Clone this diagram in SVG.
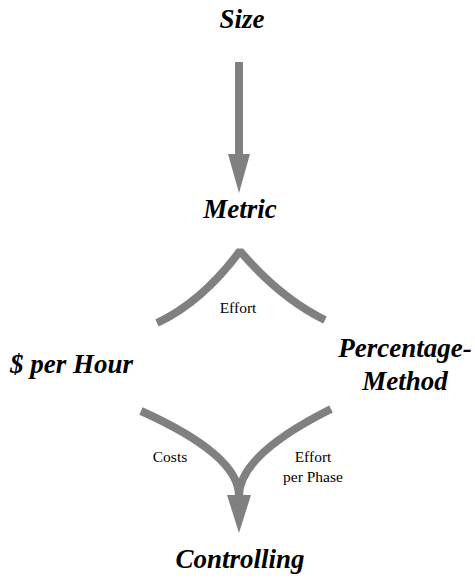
<svg xmlns="http://www.w3.org/2000/svg" width="475" height="579" viewBox="0 0 475 579">
<style>
text{font-family:'Liberation Serif','DejaVu Serif',serif}
.node{font-size:27px;font-weight:bold;font-style:italic;fill:#000}
.lbl{font-size:15.5px;fill:#000}
.band{fill:none;stroke:#808080;stroke-width:8;stroke-linecap:butt}
.head{fill:#808080}
</style>
<rect width="475" height="579" fill="#fff"/>
<g id="connectors">
  <rect x="235" y="62" width="8" height="93" class="head"/>
  <polygon points="228,154 250,154 239,193" class="head"/>
  <path class="band" d="M157,323 Q202,302 240,251 Q280,298 325,320" stroke-linejoin="bevel"/>
  <path class="band" d="M141,411 Q239,455 239,496"/>
  <path class="band" d="M331,409 Q239,455 239,496"/>
  <polygon points="227,495 251,495 239,533" class="head"/>
  <text class="lbl" font-family="Liberation Serif, serif" x="238" y="313" text-anchor="middle">Effort</text>
  <text class="lbl" font-family="Liberation Serif, serif" x="170" y="462" text-anchor="middle">Costs</text>
  <text class="lbl" font-family="Liberation Serif, serif" x="313" y="462" text-anchor="middle">Effort</text>
  <text class="lbl" font-family="Liberation Serif, serif" x="313" y="482" text-anchor="middle">per Phase</text>
</g>
<g id="size"><text class="node" font-family="Liberation Serif, serif" x="242" y="28" text-anchor="middle">Size</text></g>
<g id="metric"><text class="node" font-family="Liberation Serif, serif" x="240" y="218" text-anchor="middle">Metric</text></g>
<g id="perhour"><text class="node" font-family="Liberation Serif, serif" x="10" y="373">$ per Hour</text></g>
<g id="percentage"><text class="node" font-family="Liberation Serif, serif" x="405" y="357" text-anchor="middle">Percentage-</text><text class="node" font-family="Liberation Serif, serif" x="405" y="390" text-anchor="middle">Method</text></g>
<g id="controlling"><text class="node" font-family="Liberation Serif, serif" x="240" y="568" text-anchor="middle">Controlling</text></g>
</svg>
